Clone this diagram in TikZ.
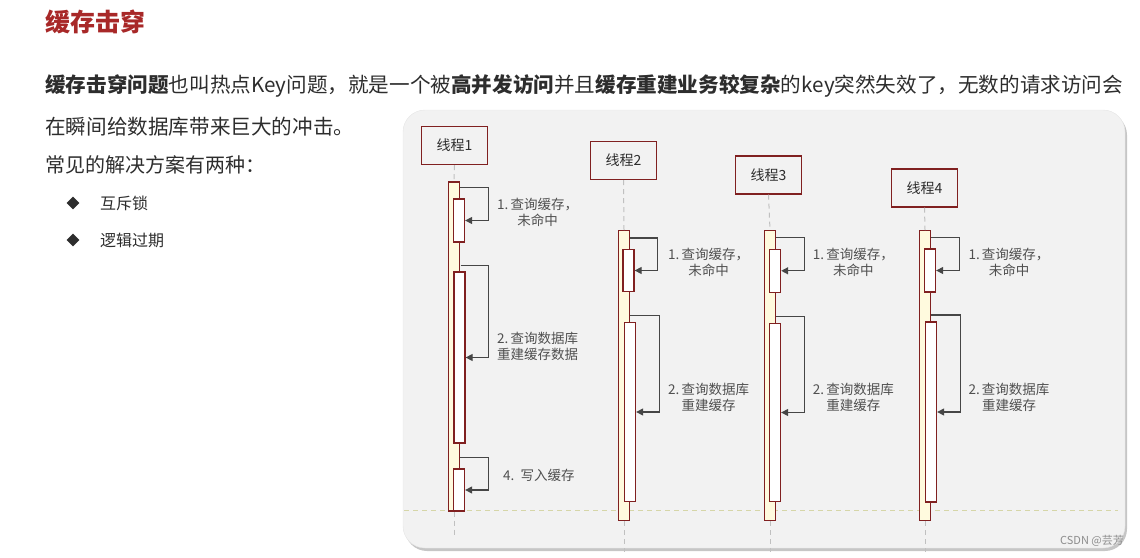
\documentclass[tikz,border=0pt]{standalone}
\usepackage{fontspec}
\newfontfamily\cjk{Noto Sans CJK SC}
\usetikzlibrary{arrows.meta,shapes.geometric,shadows}
\definecolor{titlered}{RGB}{168,40,40}
\definecolor{boxred}{RGB}{128,32,32}
\definecolor{lifeyel}{RGB}{255,250,222}
\definecolor{panelgray}{RGB}{242,242,242}
\definecolor{txtdark}{RGB}{45,45,45}
\definecolor{txtgray}{RGB}{80,80,80}
\definecolor{callgray}{RGB}{70,70,70}
\definecolor{dashgray}{RGB}{192,192,192}
\definecolor{dasholive}{RGB}{214,214,168}
\tikzset{
  head/.style={draw=boxred, line width=1.3pt, fill=panelgray, minimum width=66pt,
    minimum height=38pt, inner sep=0pt, text=txtdark, font=\cjk\fontsize{14}{14}\selectfont},
  outerbar/.style={draw=boxred, line width=1.3pt, fill=lifeyel, minimum width=11pt, inner sep=0pt},
  innerbar/.style={draw=boxred, line width=1.3pt, fill=white, minimum width=11pt, inner sep=0pt},
  call/.style={draw=callgray, line width=1.3pt, -{Triangle[length=7pt,width=7pt]}},
  note/.style={anchor=west, inner sep=0pt, align=center, text=txtgray,
    font=\cjk\fontsize{13.5}{16}\selectfont},
  lifeline/.style={draw=dashgray, line width=1pt, dash pattern=on 5pt off 4pt},
  bullet/.style={diamond, fill=txtdark, minimum size=13pt, inner sep=0pt},
  para/.style={anchor=west, inner sep=0pt, text=txtdark}
}
\begin{document}
\begin{tikzpicture}[x=1pt,y=-1pt]
  \useasboundingbox (0,0) rectangle (1140,557);
  %%text
  \node[para, text=titlered, font=\cjk\bfseries\fontsize{25}{25}\selectfont] (title) at (45,22) {缓存击穿};
  \node[para, font=\cjk\fontsize{20.6}{20.6}\selectfont] (line1) at (45,86)
    {{\bfseries 缓存击穿问题}也叫热点Key问题，就是一个被{\bfseries 高并发访问}并且{\bfseries 缓存重建业务较复杂}的key突然失效了，无数的请求访问会};
  \node[para, font=\cjk\fontsize{20.6}{20.6}\selectfont] (line2) at (45,127) {在瞬间给数据库带来巨大的冲击。};
  \node[para, font=\cjk\fontsize{20}{20}\selectfont] (line3) at (45,165) {常见的解决方案有两种：};
  \node[bullet] (b1) at (73,203) {};
  \node[para, font=\cjk\fontsize{16}{16}\selectfont] (lock) at (100,203) {互斥锁};
  \node[bullet] (b2) at (73,240) {};
  \node[para, font=\cjk\fontsize{16}{16}\selectfont] (expire) at (100,240) {逻辑过期};

  %%panel
  \draw[draw=black!10, fill=panelgray, rounded corners=22pt,
    drop shadow={shadow xshift=2pt, shadow yshift=-3pt, opacity=.45}] (403,110) rectangle (1125,548);
  \draw[draw=dasholive, line width=1pt, dash pattern=on 5pt off 4pt] (404,510.7) -- (1118,510.7);

  %%t1
  \node[head] (h1) at (454.5,145.5) {线程1};
  \node[outerbar, minimum height=329pt] (l1) at (454,346.5) {};
  \coordinate (e1) at (454,537);
  \draw[lifeline] (h1.south) -- (l1.north);
  \draw[lifeline] (l1.south) -- (e1);
    \node[innerbar, minimum height=43pt] (a11) at (459,220.5) {};
    \node[innerbar, minimum height=171pt] (a12) at (459.5,357.5) {};
    \node[innerbar, minimum height=42pt] (a13) at (459,490) {};
  \draw[call] ([xshift=1pt,yshift=11pt]a11.north) -| ([xshift=23pt]a11.east) -- (a11.east);
  \draw[call] ([xshift=1pt,yshift=6pt]a12.north) -| ([xshift=23pt]a12.east) -- (a12.east);
  \draw[call] ([xshift=1pt,yshift=11pt]a13.north) -| ([xshift=23pt]a13.east) -- (a13.east);
    \node[note] (n11) at (497,212.5) {1.\,查询缓存，\\未命中};
    \node[note] (n12) at (497,346.5) {2.\,查询数据库\\重建缓存数据};
    \node[note] (n13) at (503,475) {4.~~写入缓存};

  %%t2
  \node[head] (h2) at (623.5,160.5) {线程2};
  \node[outerbar, minimum height=290pt] (l2) at (624,375.7) {};
  \coordinate (e2) at (624,552);
  \draw[lifeline] (h2.south) -- (l2.north);
  \draw[lifeline] (l2.south) -- (e2);
    \node[innerbar, minimum height=42pt] (a21) at (628.5,270.5) {};
    \node[innerbar, minimum height=179pt] (a22) at (630,412) {};
  \draw[call] ([xshift=1pt,yshift=11pt]a21.north) -| ([xshift=23pt]a21.east) -- (a21.east);
  \draw[call] ([xshift=0pt,yshift=6.5pt]a22.north) -| ([xshift=23pt]a22.east) -- (a22.east);
    \node[note] (n21) at (668,262) {1.\,查询缓存，\\未命中};
    \node[note] (n22) at (668,397) {2.\,查询数据库\\重建缓存};

  %%t3
  \node[head] (h3) at (768.5,175) {线程3};
  \node[outerbar, minimum height=290pt] (l3) at (770,375.7) {};
  \coordinate (e3) at (770,552);
  \draw[lifeline] (h3.south) -- (l3.north);
  \draw[lifeline] (l3.south) -- (e3);
    \node[innerbar, minimum height=43pt] (a31) at (775,270.8) {};
    \node[innerbar, minimum height=178pt] (a32) at (775,412.5) {};
  \draw[call] ([xshift=1pt,yshift=11pt]a31.north) -| ([xshift=23pt]a31.east) -- (a31.east);
  \draw[call] ([xshift=1pt,yshift=6.5pt]a32.north) -| ([xshift=23pt]a32.east) -- (a32.east);
    \node[note] (n31) at (812.7,262) {1.\,查询缓存，\\未命中};
    \node[note] (n32) at (812.7,397) {2.\,查询数据库\\重建缓存};

  %%t4
  \node[head] (h4) at (924.5,188) {线程4};
  \node[outerbar, minimum height=290pt] (l4) at (925,375.7) {};
  \coordinate (e4) at (925,552);
  \draw[lifeline] (h4.south) -- (l4.north);
  \draw[lifeline] (l4.south) -- (e4);
    \node[innerbar, minimum height=43pt] (a41) at (930,270.5) {};
    \node[innerbar, minimum height=180pt] (a42) at (931,412) {};
  \draw[call] ([xshift=1pt,yshift=11pt]a41.north) -| ([xshift=23pt]a41.east) -- (a41.east);
  \draw[call] ([xshift=0pt,yshift=6.5pt]a42.north) -| ([xshift=23pt]a42.east) -- (a42.east);
    \node[note] (n41) at (968.3,262) {1.\,查询缓存，\\未命中};
    \node[note] (n42) at (968.3,397) {2.\,查询数据库\\重建缓存};

  \node[anchor=east, inner sep=0pt, text=black!45, font=\cjk\fontsize{11}{11}\selectfont] (mark) at (1124,541) {CSDN @芸芳};
\end{tikzpicture}
\end{document}
